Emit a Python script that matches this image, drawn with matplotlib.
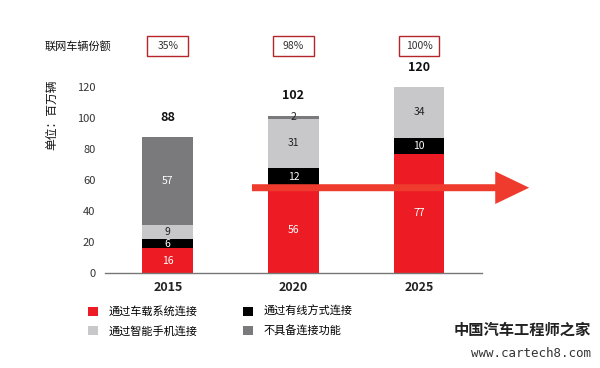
import matplotlib
matplotlib.use("Agg")
import matplotlib.pyplot as plt
from matplotlib.patches import FancyArrow, Rectangle

plt.rcParams['font.family'] = ['Noto Sans CJK SC', 'DejaVu Sans']

# data
years = ['2015', '2020', '2025']
embedded = [16, 56, 77]       # 通过车载系统连接
tethered = [6, 12, 10]        # 通过有线方式连接
smartphone = [9, 31, 34]      # 通过智能手机连接
unconnected = [57, 2, 0]      # 不具备连接功能
totals = [88, 102, 120]
shares = ['35%', '98%', '100%']

series = [
    ('通过车载系统连接', embedded, '#ED1C24', 'white'),
    ('通过有线方式连接', tethered, '#000000', 'white'),
    ('通过智能手机连接', smartphone, '#C8C8CA', '#222222'),
    ('不具备连接功能', unconnected, '#7A7A7C', 'white'),
]

fig = plt.figure(figsize=(6.0, 3.68), dpi=100)
ax = fig.add_axes([0.175, 0.258, 0.628, 0.506])

x = list(range(len(years)))
bottom = [0] * len(years)
for name, vals, color, tcolor in series:
    ax.bar(x, vals, width=0.405, bottom=bottom, color=color, label=name, zorder=2)
    for i, v in enumerate(vals):
        if v == 0:
            continue
        if v < 4:
            # thin strip: label sits on top edge
            ax.text(i, bottom[i] + v - 0.5, str(v), ha='center', va='center',
                    fontsize=7.5, color='#222222', zorder=4)
        else:
            ax.text(i, bottom[i] + v / 2, str(v), ha='center', va='center',
                    fontsize=7.5, color=tcolor, zorder=4)
    bottom = [b + v for b, v in zip(bottom, vals)]

# totals above bars
for i, t in enumerate(totals):
    ax.annotate(str(t), (i, t), xytext=(0, 9), textcoords='offset points',
                ha='center', va='bottom', fontsize=9, fontweight='bold',
                color='#111111', annotation_clip=False)

# trend arrow
arrow = FancyArrow(0.67, 55, 2.207, 0, width=4.5, head_width=21, head_length=0.27,
                   length_includes_head=True, color='#EF3B2E', lw=0,
                   clip_on=False, zorder=3)
ax.add_patch(arrow)

ax.set_xlim(-0.5, 2.5)
ax.set_ylim(0, 120)
ax.set_xticks(x)
ax.set_xticklabels(years, fontsize=9, fontweight='bold', color='#222222')
ax.set_yticks(range(0, 121, 20))
ax.tick_params(axis='y', labelsize=8, colors='#333333', length=0, pad=7)
ax.tick_params(axis='x', length=0, pad=6)
for side in ['top', 'right', 'left']:
    ax.spines[side].set_visible(False)
ax.spines['bottom'].set_color('#777777')
ax.spines['bottom'].set_linewidth(1.0)

# share boxes, centred over each bar (x in data, y in figure fraction)
box_w, box_h, box_y = 0.068, 0.054, 0.875
for i, s in enumerate(shares):
    xf = fig.transFigure.inverted().transform(ax.transData.transform((i, 0)))[0]
    fig.patches.append(Rectangle((xf - box_w / 2, box_y - box_h / 2), box_w, box_h,
                                 transform=fig.transFigure, fc='white',
                                 ec='#B5262B', lw=1.0))
    fig.text(xf, box_y, s, ha='center', va='center', fontsize=7.5, color='#333333')
fig.text(0.075, box_y, '联网车辆份额', ha='left', va='center', fontsize=8, color='#111111')

fig.text(0.087, 0.688, '单位：百万辆', rotation=90, ha='center', va='center',
         fontsize=8.5, color='#111111')

# legend
handles, labels = ax.get_legend_handles_labels()
order = [0, 2, 1, 3]
fig.legend([handles[k] for k in order], [labels[k] for k in order],
           loc='upper left', bbox_to_anchor=(0.147, 0.168), ncol=2,
           frameon=False, fontsize=8, handlelength=0.9, handleheight=0.9,
           columnspacing=4.15, handletextpad=0.9, labelspacing=0.75,
           borderaxespad=0, borderpad=0)

# watermark
fig.text(0.985, 0.105, '中国汽车工程师之家', ha='right', va='center',
         fontsize=11, fontweight='bold', color='#222222')
fig.text(0.985, 0.04, 'www.cartech8.com', ha='right', va='center',
         fontsize=9, color='#333333', family='DejaVu Sans Mono')

fig.savefig('out.png', dpi=100)
